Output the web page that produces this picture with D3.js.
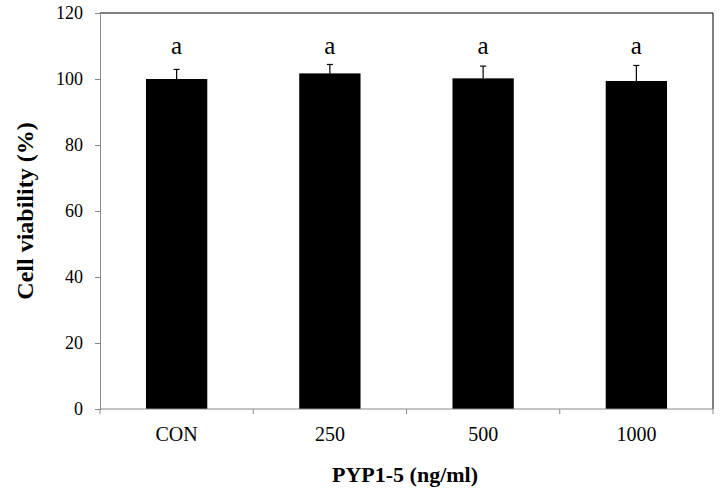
<!DOCTYPE html>
<html><head><meta charset="utf-8">
<script src="https://cdn.jsdelivr.net/npm/d3@7"></script>
<style>body{margin:0;background:#fff}svg{display:block}svg text{font-family:"Liberation Serif",serif !important;}</style>
</head><body>
<svg id="c" width="720" height="492"></svg>
<script>
const categories = ["CON", "250", "500", "1000"];
const values = [100.0, 101.7, 100.2, 99.4];
const errors = [2.9, 2.7, 3.7, 4.7];
const letters = ["a", "a", "a", "a"];
const yTicks = [0, 20, 40, 60, 80, 100, 120];

const svg = d3.select("#c");
const m = {l: 100, r: 7, t: 13, b: 83};
const W = 720, H = 492;
const x = d3.scaleBand().domain(categories).range([m.l, W - m.r]).paddingInner(0.6).paddingOuter(0.3);
const xb = d3.scaleBand().domain(categories).range([m.l, W - m.r]);
const y = d3.scaleLinear().domain([0, 120]).range([H - m.b, m.t]);

// top & right border
svg.append("line").attr("x1", m.l).attr("x2", W - m.r).attr("y1", y(120)).attr("y2", y(120)).attr("stroke", "#000");
svg.append("line").attr("x1", W - m.r).attr("x2", W - m.r).attr("y1", y(120)).attr("y2", y(0)).attr("stroke", "#000");

// bars
svg.selectAll("rect.bar").data(categories).join("rect")
  .attr("x", d => x(d)).attr("width", x.bandwidth())
  .attr("y", (d, i) => y(values[i])).attr("height", (d, i) => y(0) - y(values[i]))
  .attr("fill", "#000");

// error bars
const eb = svg.append("g").attr("stroke", "#000").attr("stroke-width", 1.2);
categories.forEach((c, i) => {
  const cx = x(c) + x.bandwidth() / 2;
  eb.append("line").attr("x1", cx).attr("x2", cx).attr("y1", y(values[i])).attr("y2", y(values[i] + errors[i]));
  eb.append("line").attr("x1", cx - 3).attr("x2", cx + 3).attr("y1", y(values[i] + errors[i])).attr("y2", y(values[i] + errors[i]));
});

// letters
svg.selectAll("text.let").data(categories).join("text")
  .attr("x", d => x(d) + x.bandwidth() / 2).attr("y", 54)
  .attr("text-anchor", "middle").style("font-size", "25px")
  .text((d, i) => letters[i]);

// y axis
const yAxis = svg.append("g").attr("transform", `translate(${m.l},0)`)
  .call(d3.axisLeft(y).tickValues(yTicks).tickSize(5).tickPadding(12));
yAxis.select(".domain").attr("stroke", "#888");
yAxis.selectAll(".tick line").attr("stroke", "#888");
yAxis.selectAll("text").style("font-size", "18px").attr("fill", "#000");

// x axis
const xAxis = svg.append("g").attr("transform", `translate(0,${y(0)})`)
  .call(d3.axisBottom(x).tickSize(0).tickPadding(18));
xAxis.select(".domain").attr("stroke", "#888").attr("d", `M${m.l},0H${W - m.r}`);
xAxis.selectAll("text").style("font-size", "20px").attr("fill", "#000");
const bounds = categories.map(c => xb(c)).concat([W - m.r]);
xAxis.selectAll("line.bt").data(bounds).join("line").attr("class", "bt")
  .attr("x1", d => d).attr("x2", d => d).attr("y1", 0).attr("y2", 5).attr("stroke", "#888");

// titles
svg.append("text").attr("x", 405).attr("y", 482)
  .attr("text-anchor", "middle").style("font-size", "22px").attr("font-weight", "bold")
  .text("PYP1-5 (ng/ml)");
svg.append("text").attr("transform", `translate(33,211) rotate(-90)`)
  .attr("text-anchor", "middle").style("font-size", "24px").attr("font-weight", "bold")
  .text("Cell viability (%)");
</script>
</body></html>
